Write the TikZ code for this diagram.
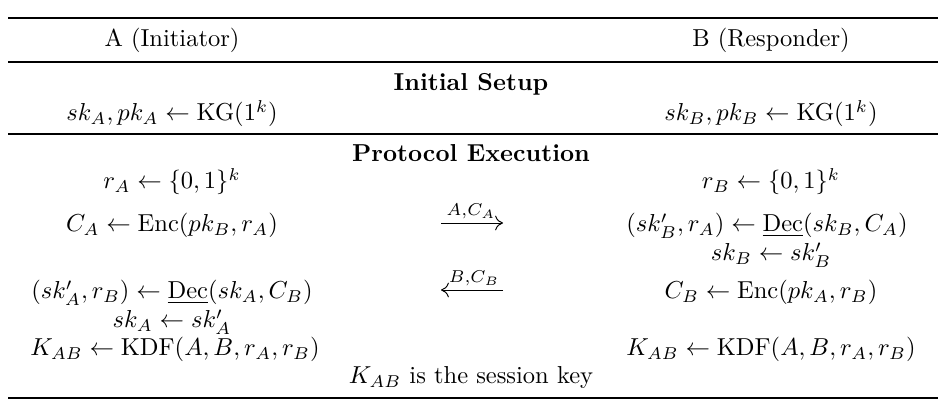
\documentclass[tikz,border=0pt]{standalone}
\usepackage{amsmath}
\usetikzlibrary{arrows.meta}
\begin{document}
\begin{tikzpicture}[x=0.408pt,y=-0.408pt,
  txt/.style={anchor=base,inner sep=0pt},
  lbl/.style={anchor=base,inner sep=0pt},
  heavyrule/.style={line width=0.8pt},
  lightrule/.style={line width=0.5pt},
  msg/.style={-{Computer Modern Rightarrow[length=3.2pt,width=6pt]},line width=0.4pt}]
\useasboundingbox (0,0) rectangle (946,414);
% rules
\coordinate (r1l) at (8,18);  \coordinate (r1r) at (938,18);
\coordinate (r2l) at (8,62);  \coordinate (r2r) at (938,62);
\coordinate (r3l) at (8,134); \coordinate (r3r) at (938,134);
\coordinate (r4l) at (8,398); \coordinate (r4r) at (938,398);
\draw[heavyrule] (r1l) -- (r1r);
\draw[lightrule] (r2l) -- (r2r);
\draw[lightrule] (r3l) -- (r3r);
\draw[heavyrule] (r4l) -- (r4r);
% header
\node[txt] (hA) at (172,47) {A (Initiator)};
\node[txt] (hB) at (771,47) {B (Responder)};
% initial setup
\node[txt] (is) at (471,91) {\textbf{Initial Setup}};
\node[txt] (kgA) at (172,121) {$sk_A, pk_A \leftarrow \mathrm{KG}(1^k)$};
\node[txt] (kgB) at (771,121) {$sk_B, pk_B \leftarrow \mathrm{KG}(1^k)$};
% protocol execution
\node[txt] (pe) at (471,162) {\textbf{Protocol Execution}};
\node[txt] (rA) at (172,189) {$r_A \leftarrow \{0,1\}^k$};
\node[txt] (rB) at (771,189) {$r_B \leftarrow \{0,1\}^k$};
\node[txt] (cA) at (172,232) {$C_A \leftarrow \mathrm{Enc}(pk_B, r_A)$};
\node[txt] (decB) at (767,232) {$(sk'_B, r_A) \leftarrow \underline{\mathrm{Dec}}(sk_B, C_A)$};
\node[txt] (skB) at (771,261) {$sk_B \leftarrow sk'_B$};
\node[txt] (decA) at (172,299) {$(sk'_A, r_B) \leftarrow \underline{\mathrm{Dec}}(sk_A, C_B)$};
\node[txt] (cB) at (771,299) {$C_B \leftarrow \mathrm{Enc}(pk_A, r_B)$};
\node[txt] (skA) at (172,328) {$sk_A \leftarrow sk'_A$};
\node[txt] (kA) at (175,356) {$K_{AB} \leftarrow \mathrm{KDF}(A, B, r_A, r_B)$};
\node[txt] (kB) at (771,356) {$K_{AB} \leftarrow \mathrm{KDF}(A, B, r_A, r_B)$};
\node[txt] (sess) at (471,384) {$K_{AB}$ is the session key};
% messages
\coordinate (m1s) at (441,223); \coordinate (m1e) at (503,223);
\coordinate (m2s) at (503,290); \coordinate (m2e) at (441,290);
\draw[msg] (m1s) -- (m1e);
\draw[msg] (m2s) -- (m2e);
\node[lbl] (l1) at (471,216) {$\scriptstyle A,C_A$};
\node[lbl] (l2) at (474,283) {$\scriptstyle B,C_B$};
\end{tikzpicture}
\end{document}
